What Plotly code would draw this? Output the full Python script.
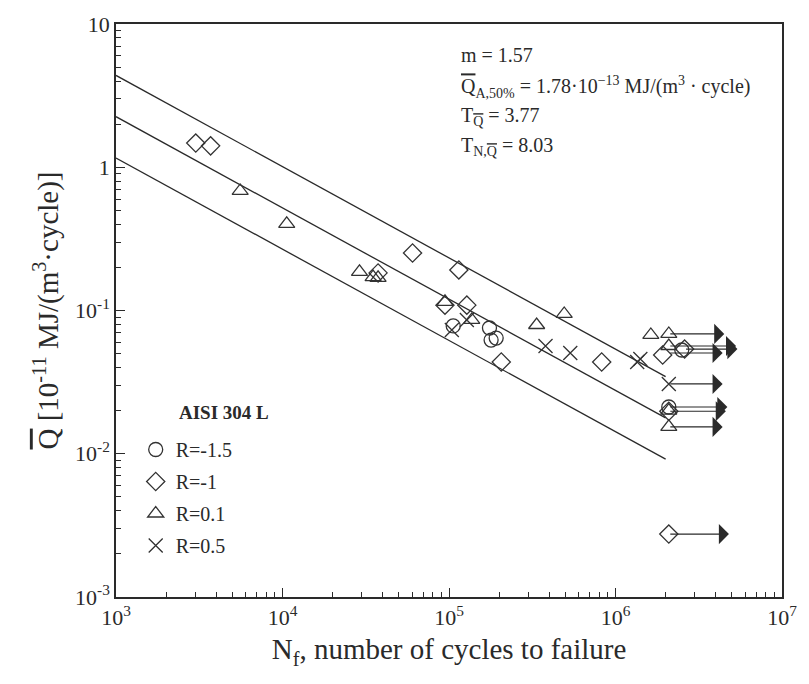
import numpy as np
import plotly.graph_objects as go

# ---- fit parameters (from annotation) ----
m_slope = 1.57
Q_A50 = 0.0178        # in 1e-11 MJ/(m^3 cycle)  (1.78e-13)
N_A = 2e6
T_Q = 3.77
line_N = [1e3, 2e6]

# ---- data ----
circ_N = [106000, 175000, 179000, 192000, 2.09e6, 2.5e6]
circ_Q = [0.078, 0.0755, 0.0622, 0.0642, 0.0212, 0.0530]

diam_N = [3013, 3700, 60400, 114600, 94600, 128000, 206000, 826000, 37500, 1.92e6, 2.6e6, 2.09e6, 2.09e6]
diam_Q = [1.476, 1.41, 0.252, 0.192, 0.109, 0.109, 0.0437, 0.0437, 0.183, 0.0489, 0.0538, 0.0198, 0.00275]

tri_N = [5570, 10600, 29000, 35000, 37500, 94600, 137000, 336000, 492000, 1.63e6, 2.09e6, 2.09e6, 2.09e6, 2.09e6]
tri_Q = [0.683, 0.402, 0.186, 0.171, 0.169, 0.115, 0.0859, 0.0792, 0.0946, 0.0675, 0.0686, 0.0565, 0.020, 0.0154]

cross_N = [104000, 128000, 380000, 535000, 1.41e6, 1.35e6, 2.09e6]
cross_Q = [0.0731, 0.0859, 0.0565, 0.0505, 0.0458, 0.0437, 0.0307]

# run-outs (arrows): start N, Q, end N
run_N = [2.09e6, 2.09e6, 2.6e6, 2.09e6, 2.09e6, 2.09e6, 2.09e6, 2.09e6, 2.09e6]
run_Q = [0.0686, 0.0565, 0.0538, 0.0505, 0.0307, 0.0212, 0.0198, 0.0154, 0.00275]
run_end = [4.5e6, 5.3e6, 5.4e6, 4.4e6, 4.4e6, 4.7e6, 4.6e6, 4.4e6, 4.8e6]

x_tickvals = [1e3, 1e4, 1e5, 1e6, 1e7]
x_ticktext = ["10<sup>3</sup>", "10<sup>4</sup>", "10<sup>5</sup>", "10<sup>6</sup>", "10<sup>7</sup>"]
y_tickvals = [1e-3, 1e-2, 1e-1, 1, 10]
y_ticktext = ["10<sup>-3</sup>", "10<sup>-2</sup>", "10<sup>-1</sup>", "1", "10"]

FONT = "Liberation Serif"
INK = "#2a2a2a"
OL = '<span style="text-decoration:overline">Q</span>'

fig = go.Figure()

Nl = np.array(line_N)
Qmid = Q_A50 * (Nl / N_A) ** (-1.0 / m_slope)
k = np.sqrt(T_Q)
for fac in (k, 1.0, 1.0 / k):
    fig.add_trace(go.Scatter(x=Nl, y=Qmid * fac, mode="lines",
                             line=dict(color=INK, width=1.3), showlegend=False,
                             hoverinfo="skip"))

series = [
    ("R=-1.5", circ_N, circ_Q, "circle-open", 14),
    ("R=-1", diam_N, diam_Q, "diamond-open", 14),
    ("R=0.1", tri_N, tri_Q, "triangle-up-open", 14),
    ("R=0.5", cross_N, cross_Q, "x-thin-open", 14),
]
for i, (name, xs, ys, sym, sz) in enumerate(series):
    fig.add_trace(go.Scatter(x=xs, y=ys, mode="markers", name=name,
                             legendgroup=f"g{i}",
                             marker=dict(symbol=sym, size=sz, color="#333",
                                         line=dict(color="#333", width=1.3))))

for n0, q, n1 in zip(run_N, run_Q, run_end):
    fig.add_annotation(x=np.log10(n1), y=np.log10(q), ax=np.log10(n0), ay=np.log10(q),
                       xref="x", yref="y", axref="x", ayref="y", text="",
                       showarrow=True, arrowhead=1, arrowsize=2.8, arrowwidth=1.2,
                       arrowcolor=INK, standoff=0, startstandoff=0)

# parameter text
W, H = 809, 684
L, R, T, B = 116, 17, 24, 87
def py(y):
    return (H - B - y) / (H - T - B)
def px(x):
    return (x - L) / (W - L - R)

lines = [
    (55, "m = 1.57"),
    (87, OL + "<sub>A,50%</sub> = 1.78·10<sup>−13</sup> MJ/(m<sup>3</sup> · cycle)"),
    (116, "T<sub>" + OL + "</sub> = 3.77"),
    (146, "T<sub>N," + OL + "</sub> = 8.03"),
]
for yy, txt in lines:
    fig.add_annotation(x=px(464), y=py(yy), xref="paper", yref="paper", text=txt,
                       showarrow=False, xanchor="left", yanchor="middle",
                       font=dict(family=FONT, size=20, color=INK))

# legend heading
fig.add_annotation(x=px(178), y=py(412), xref="paper", yref="paper",
                   text="<b>AISI 304 L</b>", showarrow=False,
                   xanchor="left", yanchor="middle",
                   font=dict(family=FONT, size=19, color=INK))

axis_common = dict(type="log", showgrid=False, zeroline=False, showline=True,
                   linecolor=INK, linewidth=1.5, mirror=True, ticks="inside",
                   ticklen=9, tickwidth=1.3, tickcolor=INK,
                   tickfont=dict(family=FONT, size=22, color=INK))

minor_x = [d * 10 ** e for e in range(3, 7) for d in range(2, 10)]
minor_y = [d * 10.0 ** e for e in range(-3, 1) for d in range(2, 10)]

fig.update_xaxes(**axis_common, range=[3, 7], tickmode="array", tickvals=x_tickvals,
                 ticktext=x_ticktext,
                 minor=dict(ticks="inside", ticklen=5, tickwidth=1.1, tickcolor=INK,
                            tickmode="array", tickvals=minor_x, showgrid=False),
                 title=dict(text="N<sub>f</sub>, number of cycles to failure",
                            font=dict(family=FONT, size=29, color=INK), standoff=10))
fig.update_yaxes(**axis_common, range=[-3, 1], tickmode="array", tickvals=y_tickvals,
                 ticktext=y_ticktext,
                 minor=dict(ticks="inside", ticklen=5, tickwidth=1.1, tickcolor=INK,
                            tickmode="array", tickvals=minor_y, showgrid=False),
                 title=dict(text=OL + " [10<sup>-11</sup> MJ/(m<sup>3</sup>·cycle)]",
                            font=dict(family=FONT, size=29, color=INK), standoff=8))

fig.update_layout(
    width=W, height=H, margin=dict(l=L, r=R, t=T, b=B),
    paper_bgcolor="white", plot_bgcolor="white",
    font=dict(family=FONT, color=INK),
    legend=dict(x=px(136), y=py(430), xanchor="left", yanchor="top",
                bgcolor="rgba(0,0,0,0)", tracegroupgap=3, itemwidth=30,
                font=dict(family=FONT, size=20, color=INK)),
)

fig.write_html("out.html")
